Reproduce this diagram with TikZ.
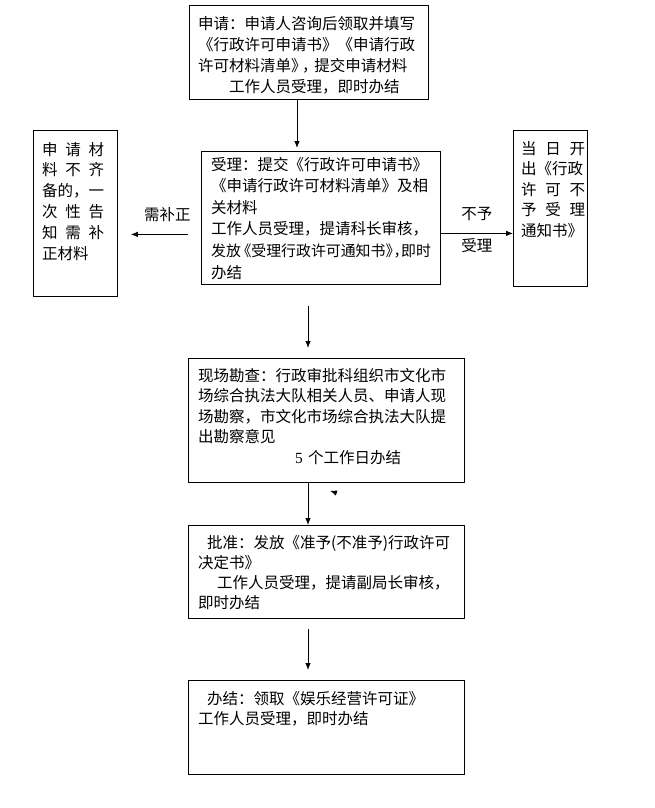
\documentclass[tikz,border=0pt]{standalone}
\usepackage{fontspec}
\setmainfont{Noto Sans CJK SC}
\newfontfamily\numfont{Liberation Serif}
\usepackage{tikz}
\usetikzlibrary{positioning,arrows.meta}

\tikzset{
  stage/.style={draw,line width=.8pt,anchor=north west,inner sep=0pt},
  txt/.style={anchor=base west,inner sep=0pt,align=left,text width=#1,font=\fontsize{15.5}{20.5}\selectfont},
  lbl/.style={inner sep=0pt,font=\fontsize{15.5}{20.5}\selectfont},
  arr/.style={line width=.8pt,-{Latex[length=7pt,width=5.5pt]}},
}

\begin{document}
\begin{tikzpicture}[x=1pt,y=-1pt]
\useasboundingbox (0,0) rectangle (655,808);

% boxes
\node[stage,minimum width=239pt,minimum height=94pt] (apply) at (189,5) {};
\node[stage,minimum width=239pt,minimum height=133pt] (accept) at (201,151) {};
\node[stage,minimum width=84pt,minimum height=166pt] (supplement) at (33,130) {};
\node[stage,minimum width=74pt,minimum height=156pt] (reject) at (513,130) {};
\node[stage,minimum width=276pt,minimum height=124pt] (survey) at (188,358) {};
\node[stage,minimum width=276pt,minimum height=93pt] (approve) at (188,525) {};
\node[stage,minimum width=276pt,minimum height=94pt] (finish) at (188,680) {};

% texts
\node[txt=228pt,font=\fontsize{15.5}{21}\selectfont] (applytext) at ([shift={(9,25)}]apply.north west)
  {申请：申请人咨询后领取并填写\\
   《行政许可申请书》《申请行政\\
   许可材料清单》\kern-.3em，\kern-.2em 提交申请材料\\
   \hspace*{2em}工作人员受理，即时办结};
\node[txt=228pt,font=\fontsize{15.5}{21.6}\selectfont] (accepttext) at ([shift={(10,19)}]accept.north west)
  {受理：提交《行政许可申请书》\\
   《申请行政许可材料清单》及相\\
   关材料\\
   工作人员受理，提请科长审核，\\
   {\fontsize{14.9}{21.6}\selectfont 发放\kern-.3em《受理行政许可通知书》\kern-.45em，\kern-.5em 即时}\\
   办结};
\node[txt=64pt,font=\fontsize{15.5}{20.8}\selectfont] (supplementtext) at ([shift={(9,25)}]supplement.north west)
  {\makebox[62pt][s]{申\hfill 请\hfill 材}\\
   \makebox[62pt][s]{料\hfill 不\hfill 齐}\\
   备的，一\\
   \makebox[62pt][s]{次\hfill 性\hfill 告}\\
   \makebox[62pt][s]{知\hfill 需\hfill 补}\\
   正材料};
\node[txt=66pt] (rejecttext) at ([shift={(8,24)}]reject.north west)
  {\makebox[64pt][s]{当\hfill 日\hfill 开}\\
   出《行政\\
   \makebox[64pt][s]{许\hfill 可\hfill 不}\\
   \makebox[64pt][s]{予\hfill 受\hfill 理}\\
   通知书》};
\node[txt=265pt] (surveytext) at ([shift={(10,23)}]survey.north west)
  {现场勘查：行政审批科组织市文化市\\
   场综合执法大队相关人员、申请人现\\
   场勘察，市文化市场综合执法大队提\\
   出勘察意见\\
   \hspace*{97pt}{\numfont 5} 个工作日办结};
\node[txt=265pt,font=\fontsize{15.5}{20.3}\selectfont] (approvetext) at ([shift={(10,23)}]approve.north west)
  {\hspace*{9pt}批准：发放《准予(不准予)行政许可\\
   决定书》\\
   \hspace*{19pt}工作人员受理，提请副局长审核，\\
   即时办结};
\node[txt=265pt,font=\fontsize{15.5}{20}\selectfont] (finishtext) at ([shift={(10,24)}]finish.north west)
  {\hspace*{9pt}办结：领取《娱乐经营许可证》\\
   工作人员受理，即时办结};

% connectors
\draw[arr] ([shift={(108,0)}]apply.south west) -- ([shift={(96,-3)}]accept.north west);

\coordinate (leftarr) at ([shift={(-13,16.5)}]accept.west);
\draw[arr] (leftarr) -- ([shift={(13,0)}]supplement.east |- leftarr)
  node[lbl,pos=.36,yshift=20pt] (needfix) {需补正};

\coordinate (rightarr) at ([shift={(0,15.5)}]accept.east);
\draw[arr] (rightarr) -- (reject.west |- rightarr)
  node[lbl,midway,yshift=19pt] (notgive) {不予}
  node[lbl,midway,yshift=-12pt] (notaccept) {受理};

\draw[arr] ([shift={(107,21)}]accept.south west) -- ([shift={(120,-10)}]survey.north west);
\draw[arr] ([shift={(120,0)}]survey.south west) -- ([shift={(120,0)}]approve.north west);
\coordinate (straytip) at ([shift={(142,8)}]survey.south west);
\draw[arr] ([shift={(148,10)}]survey.south west) -- (straytip);
\draw[arr] ([shift={(120,10)}]approve.south west) -- ([shift={(120,-10)}]finish.north west);

\end{tikzpicture}
\end{document}
